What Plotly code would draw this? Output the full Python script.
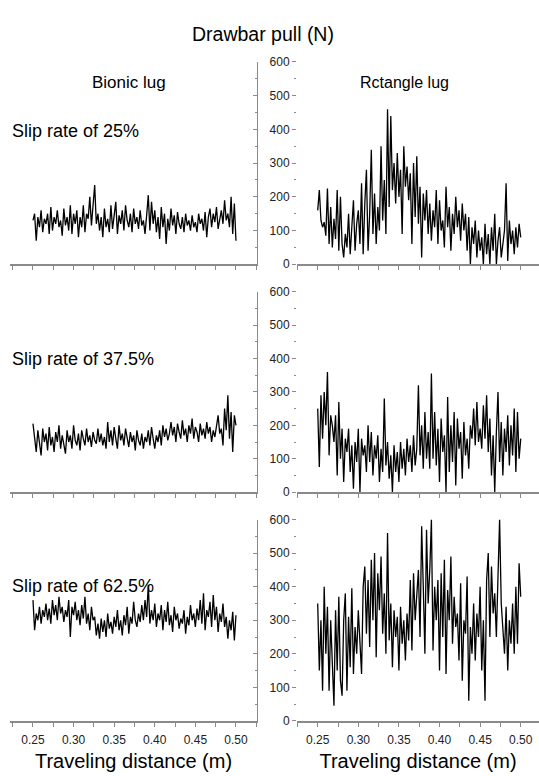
import numpy as np
import plotly.graph_objects as go

# ---------------- data ----------------
bionic_25 = [130, 150, 70, 140, 110, 160, 95, 135, 120, 150, 90, 170, 100, 140, 120, 160, 110, 130, 85, 165,
             115, 140, 100, 175, 90, 150, 120, 160, 80, 140, 110, 175, 95, 150, 135, 200, 115, 165, 235, 120,
             150, 100, 140, 80, 165, 110, 135, 95, 175, 105, 150, 185, 90, 145, 120, 160, 100, 175, 130, 110,
             150, 95, 165, 120, 140, 105, 160, 115, 130, 90, 145, 205, 100, 185, 120, 160, 95, 140, 75, 170,
             110, 150, 60, 135, 100, 165, 115, 145, 90, 155, 120, 105, 140, 95, 150, 115, 130, 100, 145, 110,
             125, 95, 150, 120, 135, 100, 155, 80, 140, 165, 110, 150, 125, 170, 105, 140, 160, 120, 190, 130,
             150, 110, 200, 90, 180, 70]

bionic_375 = [205, 170, 120, 185, 140, 110, 190, 150, 175, 125, 195, 140, 165, 120, 180, 150, 200, 130, 170, 145,
              115, 185, 150, 170, 130, 200, 155, 140, 175, 125, 185, 160, 140, 190, 150, 170, 135, 180, 155, 145,
              190, 150, 175, 140, 165, 130, 210, 150, 185, 140, 195, 160, 130, 200, 155, 175, 140, 190, 160, 135,
              180, 150, 170, 125, 185, 155, 140, 175, 130, 165, 150, 185, 140, 195, 160, 130, 170, 150, 185, 140,
              200, 165, 190, 155, 175, 210, 170, 195, 150, 205, 180, 160, 215, 170, 190, 150, 200, 175, 220, 160,
              195, 180, 150, 205, 170, 190, 160, 210, 175, 195, 150, 185, 165, 200, 230, 175, 190, 140, 250, 185,
              290, 160, 240, 120, 230, 200]

bionic_625 = [360, 270, 320, 300, 340, 290, 330, 310, 350, 300, 335, 290, 360, 315, 345, 300, 370, 320, 340, 295,
              330, 310, 360, 250, 340, 315, 355, 300, 330, 285, 345, 305, 370, 290, 320, 270, 340, 300, 310, 255,
              290, 245, 305, 265, 300, 250, 320, 275, 295, 260, 310, 280, 330, 270, 300, 255, 315, 285, 340, 260,
              310, 290, 355, 300, 280, 320, 295, 345, 300, 360, 310, 406, 290, 330, 300, 350, 280, 320, 300, 345,
              270, 330, 295, 355, 285, 315, 265, 340, 300, 320, 275, 305, 290, 330, 260, 310, 285, 345, 300, 320,
              280, 335, 300, 360, 290, 380, 270, 330, 310, 355, 280, 375, 300, 340, 265, 320, 295, 350, 280, 310,
              245, 300, 270, 325, 240, 315]

rect_25 = [160, 220, 130, 110, 125, 85, 225, 60, 170, 50, 135, 75, 220, 40, 200, 60, 20, 90, 50, 150,
           30, 110, 190, 40, 120, 160, 60, 240, 30, 180, 280, 40, 150, 340, 90, 210, 60, 170, 100, 350,
           130, 250, 90, 460, 170, 440, 220, 300, 180, 330, 200, 280, 90, 350, 230, 290, 190, 270, 60, 300,
           140, 320, 120, 230, 20, 210, 130, 220, 90, 180, 70, 160, 110, 220, 60, 190, 100, 130, 50, 230,
           110, 170, 40, 150, 90, 200, 110, 160, 70, 180, 100, 150, 40, 140, 0, 110, 60, 130, 20, 100,
           40, 80, 0, 120, 30, 90, 0, 110, 40, 150, 0, 70, 110, 20, 60, 100, 240, 10, 130, 60,
           100, 30, 110, 50, 120, 80]

rect_375 = [250, 75, 290, 160, 300, 200, 360, 110, 230, 200, 150, 230, 50, 270, 100, 190, 30, 160, 120, 190,
            60, 140, 10, 150, 90, 190, 0, 160, 110, 140, 60, 200, 90, 180, 50, 140, 100, 170, 30, 130,
            60, 280, 80, 150, 40, 110, 0, 140, 60, 120, 30, 150, 70, 130, 50, 160, 90, 140, 60, 170,
            80, 130, 320, 110, 200, 70, 240, 100, 180, 70, 355, 100, 240, 80, 190, 30, 220, 120, 170, 0,
            285, 60, 200, 90, 240, 20, 220, 130, 180, 40, 210, 110, 160, 70, 200, 160, 250, 140, 270, 150,
            190, 130, 260, 160, 290, 120, 220, 50, 170, 0, 180, 300, 90, 210, 50, 190, 120, 230, 80, 200,
            110, 250, 60, 240, 100, 160]

rect_625 = [350, 150, 300, 90, 400, 200, 340, 90, 300, 180, 45, 330, 150, 370, 120, 75, 300, 380, 90, 310,
            160, 395, 140, 280, 200, 330, 240, 140, 400, 460, 260, 420, 220, 480, 300, 500, 190, 440, 330, 490,
            260, 380, 200, 560, 240, 350, 160, 330, 250, 310, 150, 340, 230, 300, 180, 320, 240, 420, 210, 440,
            300, 380, 450, 250, 580, 400, 200, 570, 350, 450, 600, 210, 400, 300, 420, 150, 440, 250, 480, 140,
            390, 300, 490, 230, 370, 280, 320, 180, 410, 120, 300, 260, 430, 60, 280, 200, 350, 180, 320, 250,
            400, 150, 300, 60, 420, 500, 250, 460, 320, 380, 250, 430, 600, 350, 280, 200, 340, 150, 300, 230,
            350, 200, 400, 230, 470, 370]

series = [bionic_25, rect_25, bionic_375, rect_375, bionic_625, rect_625]
row_labels = ["Slip rate of 25%", "Slip rate of 37.5%", "Slip rate of 62.5%"]
col_labels = ["Bionic lug", "Rctangle lug"]
x_tick_vals = [0.225, 0.25, 0.275, 0.30, 0.325, 0.35, 0.375, 0.40, 0.425, 0.45, 0.475, 0.50, 0.525]
x_tick_text = ["", "0.25", "", "0.30", "", "0.35", "", "0.40", "", "0.45", "", "0.50", ""]
y_tick_vals = [0, 100, 200, 300, 400, 500, 600]

# ---------------- layout ----------------
W, H = 539, 776
FONT = "Liberation Sans, Arial, sans-serif"
AX = "#8a8a8a"
TXT = "#222222"

rows_px = [(262, 56), (494, 290), (727, 522)]   # (y of 0, y of 600)
left_dom = [10 / W, 257 / W]
right_dom = [297 / W, 1.0]
left_range = [0.2217, 0.5259]
right_range = [0.2245, 0.5225]

fig = go.Figure()
layout = dict(width=W, height=H, margin=dict(l=0, r=0, t=0, b=0),
              paper_bgcolor="white", plot_bgcolor="white", showlegend=False,
              font=dict(family=FONT, color=TXT))

for k, vals in enumerate(series):
    r, c = divmod(k, 2)
    n = k + 1
    xs = np.linspace(0.25, 0.50, len(vals))
    fig.add_trace(go.Scatter(x=xs, y=vals, mode="lines",
                             line=dict(color="black", width=1.3),
                             xaxis=f"x{n}", yaxis=f"y{n}", hoverinfo="skip"))
    y0, y6 = rows_px[r]
    ydom = [1 - y0 / H, 1 - y6 / H]
    xa = dict(domain=left_dom if c == 0 else right_dom,
              range=left_range if c == 0 else right_range,
              anchor=f"y{n}", showgrid=False, zeroline=False,
              showline=True, linecolor=AX, linewidth=1.5,
              ticks="outside", ticklen=4, tickcolor=AX, tickwidth=1,
              tickvals=x_tick_vals, ticktext=x_tick_text, ticklabelstandoff=3,
              showticklabels=(r == 2), tickfont=dict(size=12, color=TXT))
    if r == 2:
        xa["title"] = dict(text="Traveling distance (m)", font=dict(size=20, color="black"), standoff=8)
    ya = dict(domain=ydom, range=[0, 600], anchor=f"x{n}", showgrid=False, zeroline=False,
              tickvals=y_tick_vals, ticklen=4, tickcolor=AX, tickwidth=1,
              minor=dict(dtick=50, ticklen=2, tickcolor=AX))
    if c == 0:
        ya.update(side="right", showline=True, linecolor=AX, linewidth=1,
                  ticks="inside", showticklabels=False)
        ya["minor"]["ticks"] = "inside"
    else:
        ya.update(showline=False, ticks="outside", showticklabels=True,
                  tickfont=dict(size=12, color=TXT))
        ya["minor"]["ticks"] = "outside"
    layout[f"xaxis{n}" if n > 1 else "xaxis"] = xa
    layout[f"yaxis{n}" if n > 1 else "yaxis"] = ya

ann = [dict(text="Drawbar pull (N)", x=263 / W, y=1 - 27 / H, font=dict(size=19.5, color="black"),
            xanchor="center", yanchor="middle"),
       dict(text=col_labels[0], x=129 / W, y=1 - 77 / H, font=dict(size=17, color="black"),
            xanchor="center", yanchor="middle"),
       dict(text=col_labels[1], x=404 / W, y=1 - 77 / H, font=dict(size=16, color="black"),
            xanchor="center", yanchor="middle")]
for lab, ypx in zip(row_labels, [126, 358, 590]):
    ann.append(dict(text=lab, x=10 / W, y=1 - ypx / H, font=dict(size=18, color="black"),
                    xanchor="left", yanchor="middle"))
for a in ann:
    a.update(xref="paper", yref="paper", showarrow=False)
layout["annotations"] = ann

fig.update_layout(**layout)
fig.write_html("out.html", config={"displayModeBar": False},
               post_script="document.body.style.margin='0';")
